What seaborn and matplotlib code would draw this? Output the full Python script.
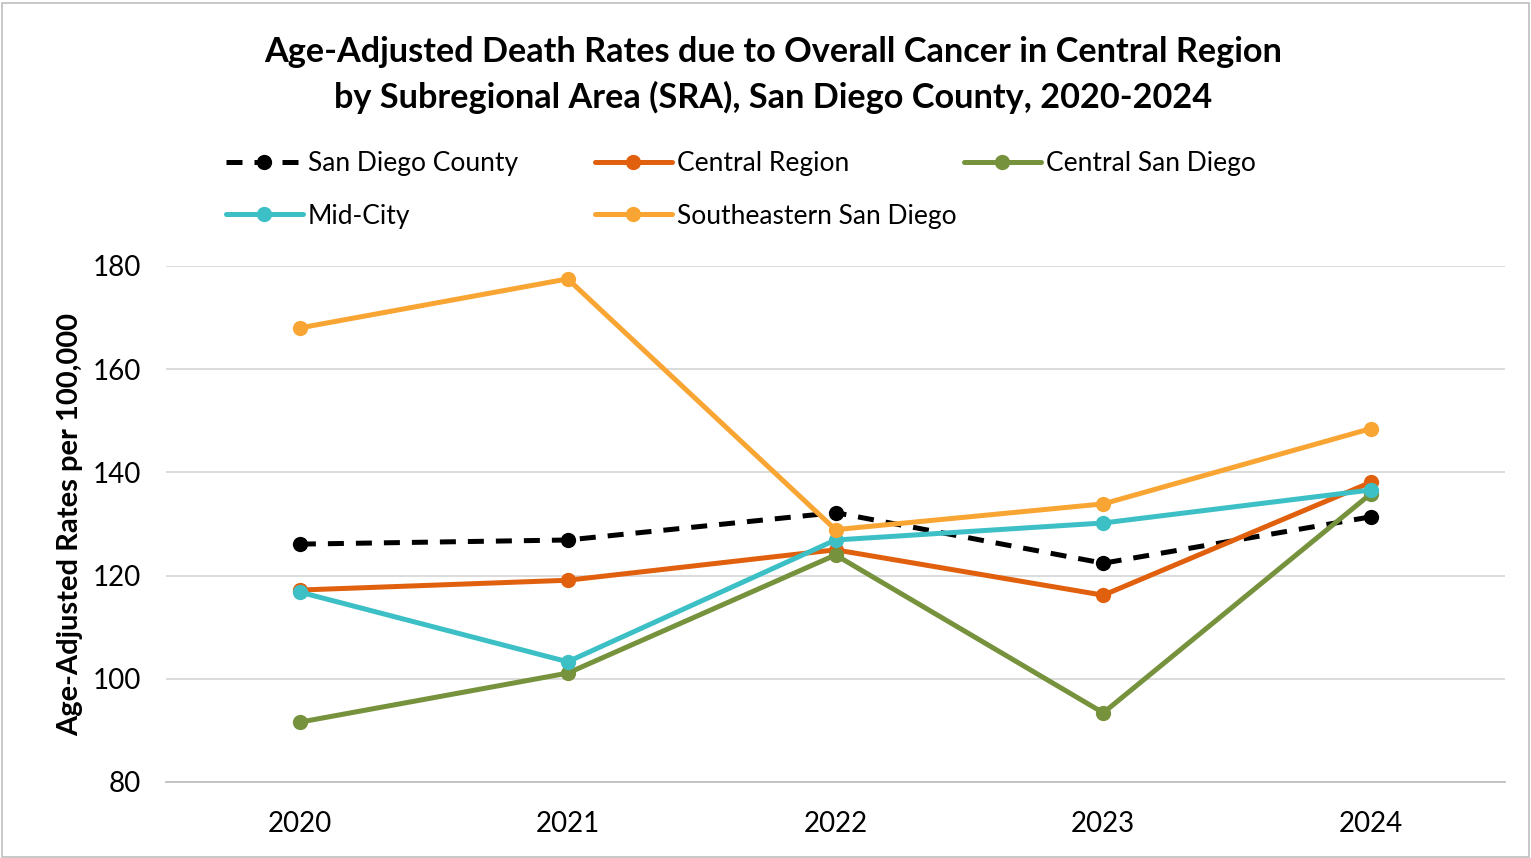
import pandas as pd
import numpy as np
import matplotlib
matplotlib.use("Agg")
import matplotlib.pyplot as plt
import seaborn as sns
from matplotlib.lines import Line2D
from matplotlib.patches import Rectangle

years = ["2020", "2021", "2022", "2023", "2024"]
san_diego_county = [126.1, 126.9, 132.2, 122.4, 131.4]
central_region = [117.2, 119.1, 125.0, 116.2, 138.1]
central_san_diego = [91.6, 101.1, 124.0, 93.4, 135.9]
mid_city = [116.8, 103.3, 126.9, 130.2, 136.6]
southeastern_sd = [168.0, 177.5, 128.9, 133.9, 148.5]

series = {
    "San Diego County": san_diego_county,
    "Central Region": central_region,
    "Central San Diego": central_san_diego,
    "Mid-City": mid_city,
    "Southeastern San Diego": southeastern_sd,
}
colors = {
    "San Diego County": "#000000",
    "Central Region": "#E0600E",
    "Central San Diego": "#76923C",
    "Mid-City": "#3CC0C6",
    "Southeastern San Diego": "#F9A533",
}

sns.set_style("white")
plt.rcParams["font.family"] = ["Lato", "DejaVu Sans"]
plt.rcParams["text.color"] = "black"
plt.rcParams["axes.labelcolor"] = "black"
plt.rcParams["xtick.color"] = "black"
plt.rcParams["ytick.color"] = "black"

fig = plt.figure(figsize=(15.31, 8.58), dpi=100)
ax = fig.add_axes([166 / 1531, 1 - 782 / 858, 1339 / 1531, 516 / 858])

for name, vals in series.items():
    df = pd.DataFrame({"x": np.arange(len(years)), "y": vals})
    sns.lineplot(data=df, x="x", y="y", ax=ax, color=colors[name], lw=3.6,
                 marker="o", markersize=11, markeredgewidth=0, legend=False)
    line = ax.lines[-1]
    if name == "San Diego County":
        line.set_dashes([3.2, 2.4])

ax.set_xlim(-0.5, 4.5)
ax.set_ylim(80, 180)
ax.set_yticks([80, 100, 120, 140, 160, 180])
ax.set_xticks(range(len(years)))
ax.set_xticklabels(years)
ax.set_xticks(np.arange(-0.5, 5, 1), minor=True)
ax.tick_params(axis="x", which="major", length=0, labelsize=20, pad=21)
ax.tick_params(axis="x", which="minor", length=7, color="#BFBFBF", width=1.2, direction="out")
ax.tick_params(axis="y", length=0, labelsize=20, pad=18)
ax.yaxis.grid(True, color="#D9D9D9", lw=1.3)
ax.set_axisbelow(True)
for s in ["left", "right", "top"]:
    ax.spines[s].set_visible(False)
ax.spines["bottom"].set_color("#BFBFBF")
ax.spines["bottom"].set_linewidth(1.3)
ax.set_xlabel("")
ax.set_ylabel("Age-Adjusted Rates per 100,000", fontsize=21, fontweight="bold", labelpad=7)

fig.text(773 / 1531, 1 - 75 / 858,
         "Age-Adjusted Death Rates due to Overall Cancer in Central Region\n"
         "by Subregional Area (SRA), San Diego County, 2020-2024",
         ha="center", va="center", fontsize=24.7, fontweight="bold", linespacing=1.5)

def legend_handle(name):
    h = Line2D([], [], color=colors[name], lw=3.6, marker="o", markersize=11, markeredgewidth=0)
    if name == "San Diego County":
        h.set_dashes([3.2, 2.4])
    return h

columns = [(["San Diego County", "Mid-City"], 226),
           (["Central Region", "Southeastern San Diego"], 595),
           (["Central San Diego"], 964)]
for names, xpix in columns:
    fig.legend(handles=[legend_handle(n) for n in names], labels=names,
               loc="upper left", bbox_to_anchor=(xpix / 1531, 1 - 151 / 858),
               frameon=False, fontsize=19, handlelength=2.9, handletextpad=0.2,
               labelspacing=1.05, borderpad=0, borderaxespad=0)

fig.patches.append(Rectangle((0.001, 0.001), 0.998, 0.996, transform=fig.transFigure,
                             fill=False, edgecolor="#BFBFBF", lw=1.2))

fig.savefig("out.png", dpi=100)
